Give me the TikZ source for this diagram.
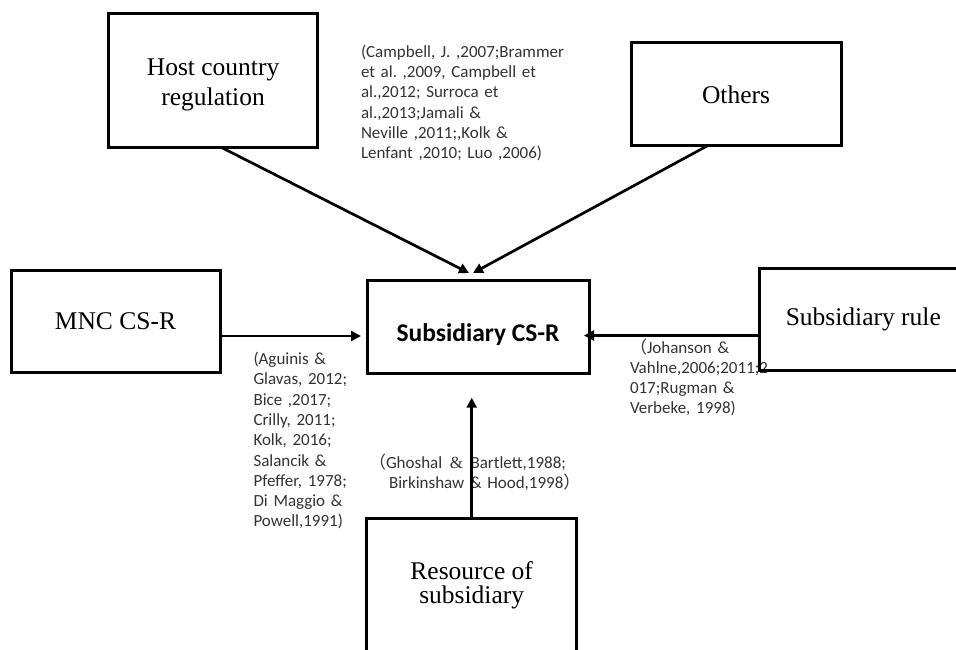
\documentclass[tikz,border=0pt]{standalone}
\usepackage{fontspec}
\setmainfont{Liberation Serif}
\newfontfamily\citefont{Carlito}
\newfontfamily\cjkfont{Noto Sans CJK SC}
\usetikzlibrary{arrows.meta,calc}
\frenchspacing
\begin{document}
\begin{tikzpicture}[x=1pt,y=-1pt,
  box/.style={draw, line width=3pt, rectangle, inner sep=0pt, outer sep=0pt, align=center,
    font=\fontsize{25.5}{30}\selectfont},
  cite/.style={inner sep=0pt, outer sep=0pt, anchor=base west, align=left, text width=260pt,
    text=black!80, font=\frenchspacing\citefont\fontsize{17}{20.3}\selectfont},
  conn/.style={line width=2.7pt, -{Triangle[length=10pt,width=10pt]}}]
\useasboundingbox (0,0) rectangle (956,650);
\clip (0,0) rectangle (956,650);
% citation texts
\node[cite] (c1) at (361,57.3) {(Campbell, J. ,2007;Brammer\\et al. ,2009, Campbell et\\al.,2012; Surroca et\\al.,2013;Jamali \&\\Neville ,2011;,Kolk \&\\Lenfant ,2010; Luo ,2006)};
\node[cite] (c2) at (253.5,364.5) {(Aguinis \&\\Glavas, 2012;\\Bice ,2017;\\Crilly, 2011;\\Kolk, 2016;\\Salancik \&\\Pfeffer, 1978;\\Di Maggio \&\\Powell,1991)};
\node[cite] (c3) at (630,353) {{\cjkfont （}Johanson \&\\Vahlne,2006;2011;2\\017;Rugman \&\\Verbeke, 1998)};
\node[cite] (c4) at (369,468.5) {{\cjkfont （}Ghoshal \makebox[17pt]{\rmfamily\&} Bartlett,1988;\\\hspace*{20pt}Birkinshaw \& Hood,1998{\cjkfont ）}};
% boxes
\node[box, minimum width=209.2pt, minimum height=134pt] (host) at (213.1,80.3) {\rule{0pt}{25pt}Host country\\regulation};
\node[box, minimum width=210pt, minimum height=103pt] (others) at (736,94.5) {Others};
\node[box, minimum width=209pt, minimum height=102pt] (mnc) at (115.5,321) {MNC CS-R};
\node[box, minimum width=222pt, minimum height=93pt, text height=29pt, text depth=0pt,
  font=\citefont\bfseries\fontsize{25.5}{30}\selectfont] (sub) at (478,326.5) {Subsidiary CS-R};
\node[box, minimum width=208pt, minimum height=102.4pt] (rule) at (863.3,319.5) {Subsidiary rule};
\node[box, minimum width=210pt, minimum height=134pt, font=\fontsize{25.5}{24}\selectfont] (res) at (471.7,585) {Resource of\\subsidiary};
% connectors
\draw[conn] ($(host.south)+(8,0)$) -- ($(sub.north)+(-9,-7)$);
\draw[conn] ($(others.south)+(-29,0)$) -- ($(sub.north)+(-5,-7)$);
\draw[conn] ($(mnc.east)+(0,15)$) -- ($(sub.west)+(-6,9.5)$);
\draw[conn] ($(rule.west)+(0,16)$) -- ($(sub.east)+(-5,9)$);
\draw[conn] (res.north) -- ($(sub.south)+(-6.3,24.7)$);
\end{tikzpicture}
\end{document}
